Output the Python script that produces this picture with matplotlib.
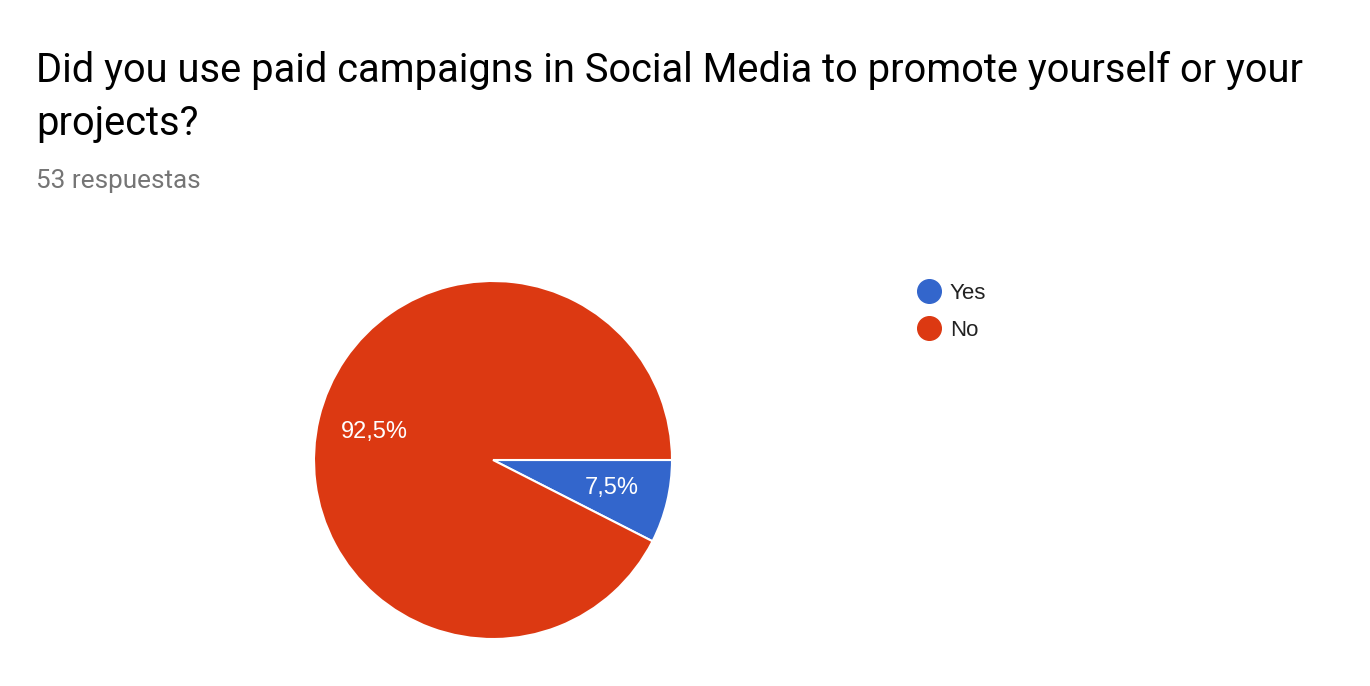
import matplotlib
matplotlib.use("Agg")
import matplotlib.pyplot as plt
from matplotlib.lines import Line2D

plt.rcParams['font.family'] = ['Roboto', 'DejaVu Sans']

# data
labels = ['Yes', 'No']
shares = [7.5, 92.5]
colors = ['#3366CC', '#DC3912']
title_lines = ['Did you use paid campaigns in Social Media to promote yourself or your',
               'projects?']
subtitle = '53 respuestas'

W, H = 1370, 686
fig = plt.figure(figsize=(W / 100, H / 100), dpi=100)
fig.patch.set_facecolor('white')

# title and response count
fig.text(36 / W, 1 - 82 / H, title_lines[0], fontsize=28.7, color='#000000', va='baseline')
fig.text(36 / W, 1 - 135 / H, title_lines[1], fontsize=28.7, color='#000000', va='baseline')
fig.text(36 / W, 1 - 188 / H, subtitle, fontsize=18.8, color='#757575', va='baseline')

# pie: centre (493, 460), radius 179 px
cx, cy, r = 493, 460, 179
ax = fig.add_axes([(cx - r) / W, (H - cy - r) / H, 2 * r / W, 2 * r / H])
wedges, _, autotexts = ax.pie(
    shares, colors=colors, startangle=0, counterclock=False,
    autopct=lambda p: f'{p:.1f}%'.replace('.', ','), pctdistance=0.68,
    wedgeprops=dict(edgecolor='white', linewidth=1.5),
    textprops=dict(color='white', fontsize=17, family='Liberation Sans'))
ax.set_xlim(-1, 1)
ax.set_ylim(-1, 1)
ax.set_aspect('equal')
ax.axis('off')

# legend
handles = [Line2D([], [], marker='o', linestyle='none', markersize=17,
                  markerfacecolor=c, markeredgecolor=c) for c in colors]
fig.legend(handles, labels, loc='upper left', bbox_to_anchor=(916 / W, 1 - 283 / H),
           frameon=False, handletextpad=0.33, labelspacing=0.72,
           handlelength=1.2, borderpad=0, borderaxespad=0, labelcolor='#222222',
           prop=dict(family='Liberation Sans', size=16))

fig.savefig('out.png', dpi=100, facecolor='white')
